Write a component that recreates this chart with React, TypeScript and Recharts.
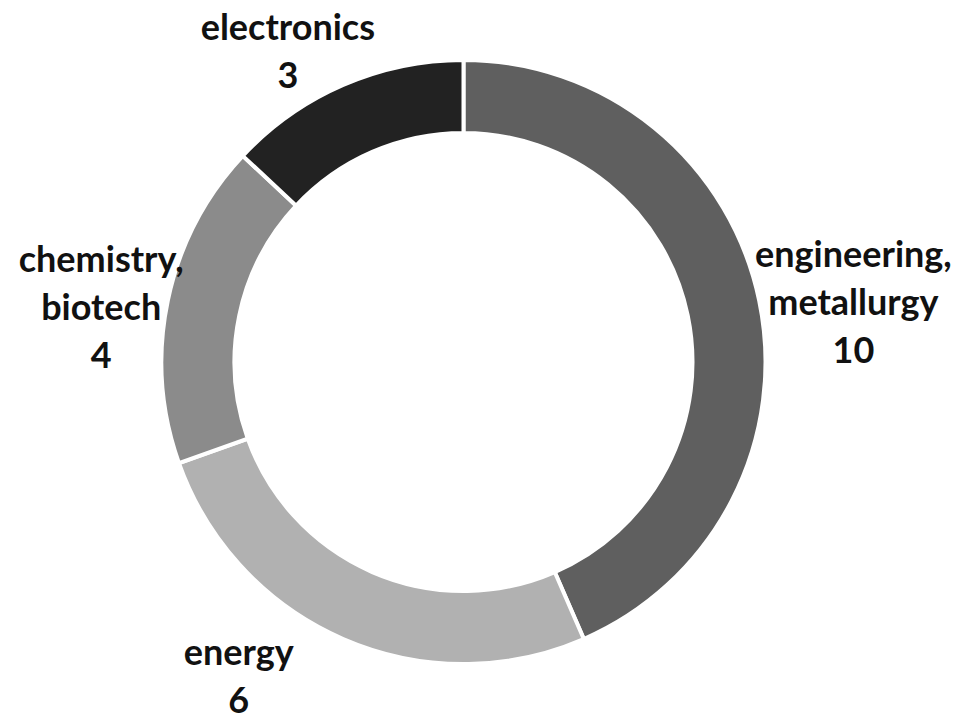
import { Cell, Pie, PieChart } from "recharts";

const categories = ["engineering, metallurgy", "energy", "chemistry, biotech", "electronics"];
const counts = [10, 6, 4, 3];
const sliceColors = ["#5f5f5f", "#b1b1b1", "#8b8b8b", "#222222"];

// labels were dragged by hand in the original, so nudge each one a bit
const labelNudges: [number, number][] = [
  [-6, 17],
  [-81, -10],
  [18, 22],
  [-19, 14],
];

const data = categories.map((name, i) => ({ name, value: counts[i] }));

const FONT_SIZE = 36;
const LINE_H = 48;
const FONT = `bold ${FONT_SIZE}px Lato`;
const RADIAN = Math.PI / 180;

let ctx: CanvasRenderingContext2D | null = null;
function textWidth(s: string) {
  if (!ctx) ctx = document.createElement("canvas").getContext("2d");
  if (!ctx) return s.length * FONT_SIZE * 0.52;
  ctx.font = FONT;
  return ctx.measureText(s).width;
}

function renderLabel(props: any) {
  const { cx, cy, midAngle, outerRadius, index, name, value } = props;
  const lines = [...String(name).split(/(?<=,)\s+/), String(value)];
  const dx = Math.cos(-midAngle * RADIAN);
  const dy = Math.sin(-midAngle * RADIAN);
  const w = Math.max(...lines.map(textWidth));
  const h = lines.length * LINE_H;
  const gap = 4;
  const [nx, ny] = labelNudges[index] ?? [0, 0];
  const bx = cx + dx * (outerRadius + w / 2 + gap) + nx;
  const by = cy + dy * (outerRadius + h / 2 + gap) + ny;
  const first = by - ((lines.length - 1) * LINE_H) / 2 + FONT_SIZE * 0.35;
  return (
    <text
      key={`lbl-${index}`}
      x={bx}
      textAnchor="middle"
      fontFamily="Lato"
      fontWeight={700}
      fontSize={FONT_SIZE}
      fill="#111"
    >
      {lines.map((ln, i) => (
        <tspan key={i} x={bx} y={first + i * LINE_H}>
          {ln}
        </tspan>
      ))}
    </text>
  );
}

export default function App() {
  return (
    <div
      style={{
        position: "absolute",
        left: 0,
        top: 0,
        width: 953,
        height: 725,
        background: "#fff",
      }}
    >
      <PieChart width={953} height={725}>
        <Pie
          data={data}
          dataKey="value"
          nameKey="name"
          cx={458.5}
          cy={357}
          innerRadius={229}
          outerRadius={302}
          startAngle={90}
          endAngle={-270}
          stroke="#fff"
          strokeWidth={4}
          label={renderLabel}
          labelLine={false}
          isAnimationActive={false}
        >
          {data.map((d, i) => (
            <Cell key={d.name} fill={sliceColors[i]} />
          ))}
        </Pie>
      </PieChart>
    </div>
  );
}
